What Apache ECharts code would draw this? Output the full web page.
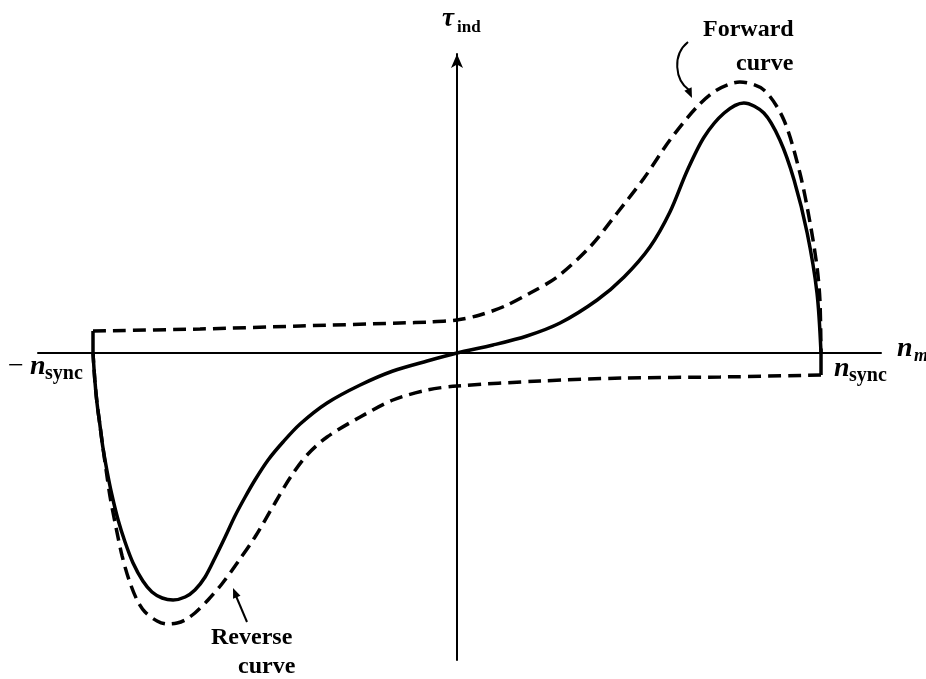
<!DOCTYPE html>
<html>
<head>
<meta charset="utf-8">
<script src="https://cdn.jsdelivr.net/npm/echarts@6/dist/echarts.min.js"></script>
<style>
html,body{margin:0;padding:0;background:#fff;}
#chart{width:926px;height:679px;}
</style>
</head>
<body>
<div id="chart"></div>
<script>
// speed n / n_sync and normalized induced torque (peak = 1)
const solidN = [-1.000,-0.995,-0.989,-0.981,-0.973,-0.962,-0.948,-0.931,-0.912,-0.890,-0.863,-0.838,-0.810,-0.780,-0.747,-0.720,-0.692,-0.665,-0.637,-0.610,-0.582,-0.555,-0.519,-0.478,-0.431,-0.357,-0.266,-0.176,-0.082,0,0.099,0.192,0.283,0.385,0.459,0.530,0.585,0.632,0.679,0.734,0.788,0.843,0.887,0.926,0.962,0.989,1.000];
const solidT = [0,-0.108,-0.200,-0.288,-0.376,-0.468,-0.568,-0.668,-0.756,-0.840,-0.912,-0.956,-0.980,-0.988,-0.976,-0.948,-0.896,-0.820,-0.736,-0.652,-0.576,-0.508,-0.428,-0.356,-0.284,-0.200,-0.128,-0.072,-0.032,0,0.032,0.068,0.120,0.212,0.304,0.424,0.564,0.728,0.864,0.960,1.000,0.960,0.852,0.692,0.480,0.240,0];

const forwardN = [-1.000,-0.706,-0.431,-0.157,-0.074,0,0.063,0.132,0.201,0.275,0.365,0.440,0.514,0.585,0.659,0.714,0.777,0.843,0.898,0.942,0.970,0.989,0.997,1.000];
const forwardT = [0.088,0.096,0.108,0.120,0.124,0.132,0.152,0.188,0.240,0.304,0.424,0.560,0.700,0.852,0.984,1.052,1.084,1.052,0.932,0.720,0.520,0.344,0.212,0];

const reverseN = [1.000,0.723,0.459,0.228,0,-0.082,-0.176,-0.266,-0.357,-0.412,-0.459,-0.500,-0.555,-0.602,-0.646,-0.684,-0.720,-0.747,-0.769,-0.797,-0.824,-0.857,-0.879,-0.901,-0.920,-0.937,-0.953,-0.964,-0.973,-0.981,-0.989,-0.995,-1.000];
const reverseT = [-0.088,-0.096,-0.100,-0.112,-0.132,-0.148,-0.188,-0.256,-0.336,-0.408,-0.500,-0.600,-0.736,-0.836,-0.924,-0.988,-1.040,-1.068,-1.080,-1.084,-1.072,-1.036,-0.988,-0.908,-0.812,-0.696,-0.576,-0.468,-0.376,-0.288,-0.200,-0.108,0];

const zip = (a, b) => a.map((v, i) => [v, b[i]]);

const chart = echarts.init(document.getElementById('chart'), null, {renderer: 'canvas'});
const serif = '"Liberation Serif", "DejaVu Serif", serif';
const black = '#000';

function txt(x, y, text, size, weight, style) {
  return {
    type: 'text', x: x, y: y, z: 100,
    style: {
      text: text, fill: black, fontFamily: serif, fontSize: size,
      fontWeight: weight || 'normal', fontStyle: style || 'normal',
      align: 'left', verticalAlign: 'middle'
    }
  };
}

chart.setOption({
  animation: false,
  backgroundColor: '#fff',
  grid: {left: 38, right: 45, top: 54, bottom: 19, containLabel: false, outerBoundsMode: 'none'},
  xAxis: {
    type: 'value', min: -1.1511, max: 1.1648,
    axisLine: {show: true, onZero: true, lineStyle: {color: black, width: 2}},
    axisTick: {show: false}, axisLabel: {show: false}, splitLine: {show: false}
  },
  yAxis: {
    type: 'value', min: -1.228, max: 1.196,
    axisLine: {show: true, onZero: true, symbol: ['none', 'arrow'], symbolSize: [9, 14],
      lineStyle: {color: black, width: 2}},
    axisTick: {show: false}, axisLabel: {show: false}, splitLine: {show: false}
  },
  series: [
    {type: 'line', data: zip(solidN, solidT), smooth: 0.3, showSymbol: false,
      lineStyle: {color: black, width: 3.5}},
    {type: 'line', data: zip(forwardN, forwardT), smooth: 0.3, showSymbol: false,
      lineStyle: {color: black, width: 3.5, type: [13, 7]}},
    {type: 'line', data: zip(reverseN, reverseT), smooth: 0.3, showSymbol: false,
      lineStyle: {color: black, width: 3.5, type: [13, 7]}},
    {type: 'line', data: [[forwardN[0], 0], [forwardN[0], forwardT[0]]], showSymbol: false,
      lineStyle: {color: black, width: 3.5}},
    {type: 'line', data: [[reverseN[0], 0], [reverseN[0], reverseT[0]]], showSymbol: false,
      lineStyle: {color: black, width: 3.5}}
  ],
  graphic: [
    txt(442, 19, 'τ', 27, 'bold', 'italic'),
    txt(457, 28, 'ind', 17, 'bold'),
    txt(8, 367, '−', 28, 'normal'),
    txt(30, 367, 'n', 28, 'bold', 'italic'),
    txt(45, 374, 'sync', 20, 'bold'),
    txt(834, 369, 'n', 28, 'bold', 'italic'),
    txt(849, 376, 'sync', 20, 'bold'),
    txt(897, 349, 'n', 28, 'bold', 'italic'),
    txt(914, 356, 'm', 18, 'bold', 'italic'),
    txt(703, 30, 'Forward', 24, 'bold'),
    txt(736, 64, 'curve', 24, 'bold'),
    txt(211, 638, 'Reverse', 24, 'bold'),
    txt(238, 667, 'curve', 24, 'bold'),
    {type: 'bezierCurve', z: 100,
      shape: {x1: 688, y1: 42, cpx1: 672, cpy1: 55, cpx2: 675, cpy2: 80, x2: 689, y2: 90},
      style: {stroke: black, lineWidth: 2, fill: null}},
    {type: 'polygon', z: 100,
      shape: {points: [[692, 98], [684.4, 90.8], [691.6, 87.2]]},
      style: {fill: black}},
    {type: 'line', z: 100,
      shape: {x1: 247, y1: 622, x2: 236, y2: 596},
      style: {stroke: black, lineWidth: 2}},
    {type: 'polygon', z: 100,
      shape: {points: [[233, 588], [240.5, 595.7], [233.1, 598.7]]},
      style: {fill: black}}
  ]
});
</script>
</body>
</html>
